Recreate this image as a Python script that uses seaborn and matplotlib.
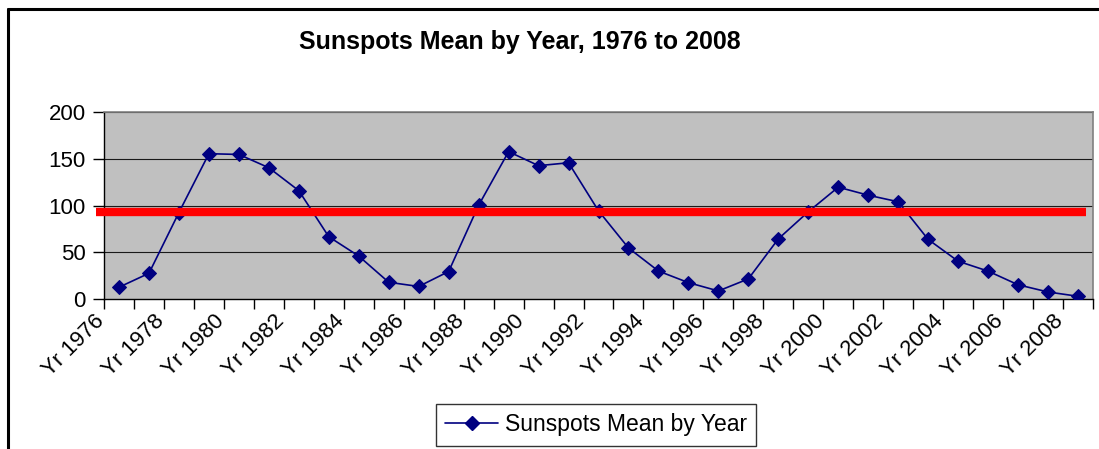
import numpy as np
import pandas as pd
import matplotlib
matplotlib.use("Agg")
import matplotlib.pyplot as plt
import matplotlib.transforms as mtransforms
from matplotlib.lines import Line2D
import seaborn as sns

# ---- data ----
years = list(range(1976, 2009))
sunspots = [12.6, 27.5, 92.5, 155.4, 154.6, 140.4, 115.9, 66.6, 45.9, 17.9, 13.4,
            29.4, 100.2, 157.6, 142.6, 145.7, 94.3, 54.6, 29.9, 17.5, 8.6, 21.5,
            64.3, 93.3, 119.6, 111.0, 104.0, 63.7, 40.4, 29.8, 15.2, 7.5, 2.9]
reference_level = 93
series_name = "Sunspots Mean by Year"
title = "Sunspots Mean by Year, 1976 to 2008"
tick_labels = [f"Yr {y}" for y in years]
y_ticks = [0, 50, 100, 150, 200]

sns.set_style("white")
plt.rcParams['font.family'] = ['Liberation Sans', 'DejaVu Sans']
plt.rcParams['text.color'] = 'black'
plt.rcParams['xtick.color'] = 'black'
plt.rcParams['ytick.color'] = 'black'

df = pd.DataFrame({"pos": np.arange(len(years)), "value": sunspots, "series": series_name})

fig = plt.figure(figsize=(10.99, 4.49), dpi=100)
ax = fig.add_axes([104/1099, 1-299/449, (1093-104)/1099, (299-112)/449])
ax.set_facecolor("#C0C0C0")

for yv in y_ticks[1:]:
    ax.axhline(yv, color="#1a1a1a", lw=0.8, zorder=1)

sns.lineplot(data=df, x="pos", y="value", ax=ax, color="#000080", lw=1.2,
             marker="D", markersize=7.5, markeredgecolor="#000080",
             label=series_name, zorder=3, legend=False)

ax.hlines(reference_level, -8/989, (1086-104)/989, transform=ax.get_yaxis_transform(),
          color="#FF0000", lw=6, clip_on=False, zorder=4)

n = len(years)
ax.set_xlim(-0.5, n - 0.5)
ax.set_ylim(0, 200)
ax.set_yticks(y_ticks)
ax.set_yticklabels([str(v) for v in y_ticks], fontsize=16)
ax.tick_params(axis="y", length=8, width=1, color="black", pad=5, direction="out", left=True)

# category boundaries as minor ticks, labels on every other center
ax.set_xticks(np.arange(-0.5, n, 1.0), minor=True)
ax.set_xticks(np.arange(0, n, 2))
ax.tick_params(axis="x", which="minor", length=7, width=1, color="black", direction="out", bottom=True)
ax.tick_params(axis="x", which="major", length=0)
labels = ax.set_xticklabels([tick_labels[i] for i in range(0, n, 2)], fontsize=16,
                            rotation=45, ha="right", va="top", rotation_mode="anchor")
offset = mtransforms.ScaledTranslation(-25/100, -7/100, fig.dpi_scale_trans)
for lab in labels:
    lab.set_transform(lab.get_transform() + offset)
ax.set_xlabel("")
ax.set_ylabel("")

for s in ["left", "bottom"]:
    ax.spines[s].set_color("black")
    ax.spines[s].set_linewidth(1)
for s in ["top", "right"]:
    ax.spines[s].set_color("#808080")
    ax.spines[s].set_linewidth(1.2)

fig.text(0.473, 1-42/449, title, ha="center", va="center", fontsize=18,
         fontweight="bold", color="black")

handle = Line2D([], [], color="#000080", lw=1.2, marker="D", markersize=7.5)
leg = fig.legend([handle], [series_name], loc="center", bbox_to_anchor=(596/1099, 1-425/449),
                 fontsize=16.5, frameon=True, fancybox=False, edgecolor="black",
                 handlelength=2.3, borderpad=0.4, handletextpad=0.3)
leg.get_frame().set_linewidth(1)

# outer frame (top and left)
fig.add_artist(Line2D([7.5/1099, 1.0], [1-9/449, 1-9/449], transform=fig.transFigure, color="black", lw=2.2))
fig.add_artist(Line2D([7.5/1099, 7.5/1099], [0, 1-9/449], transform=fig.transFigure, color="black", lw=2.2))

fig.savefig("out.png", dpi=100)
